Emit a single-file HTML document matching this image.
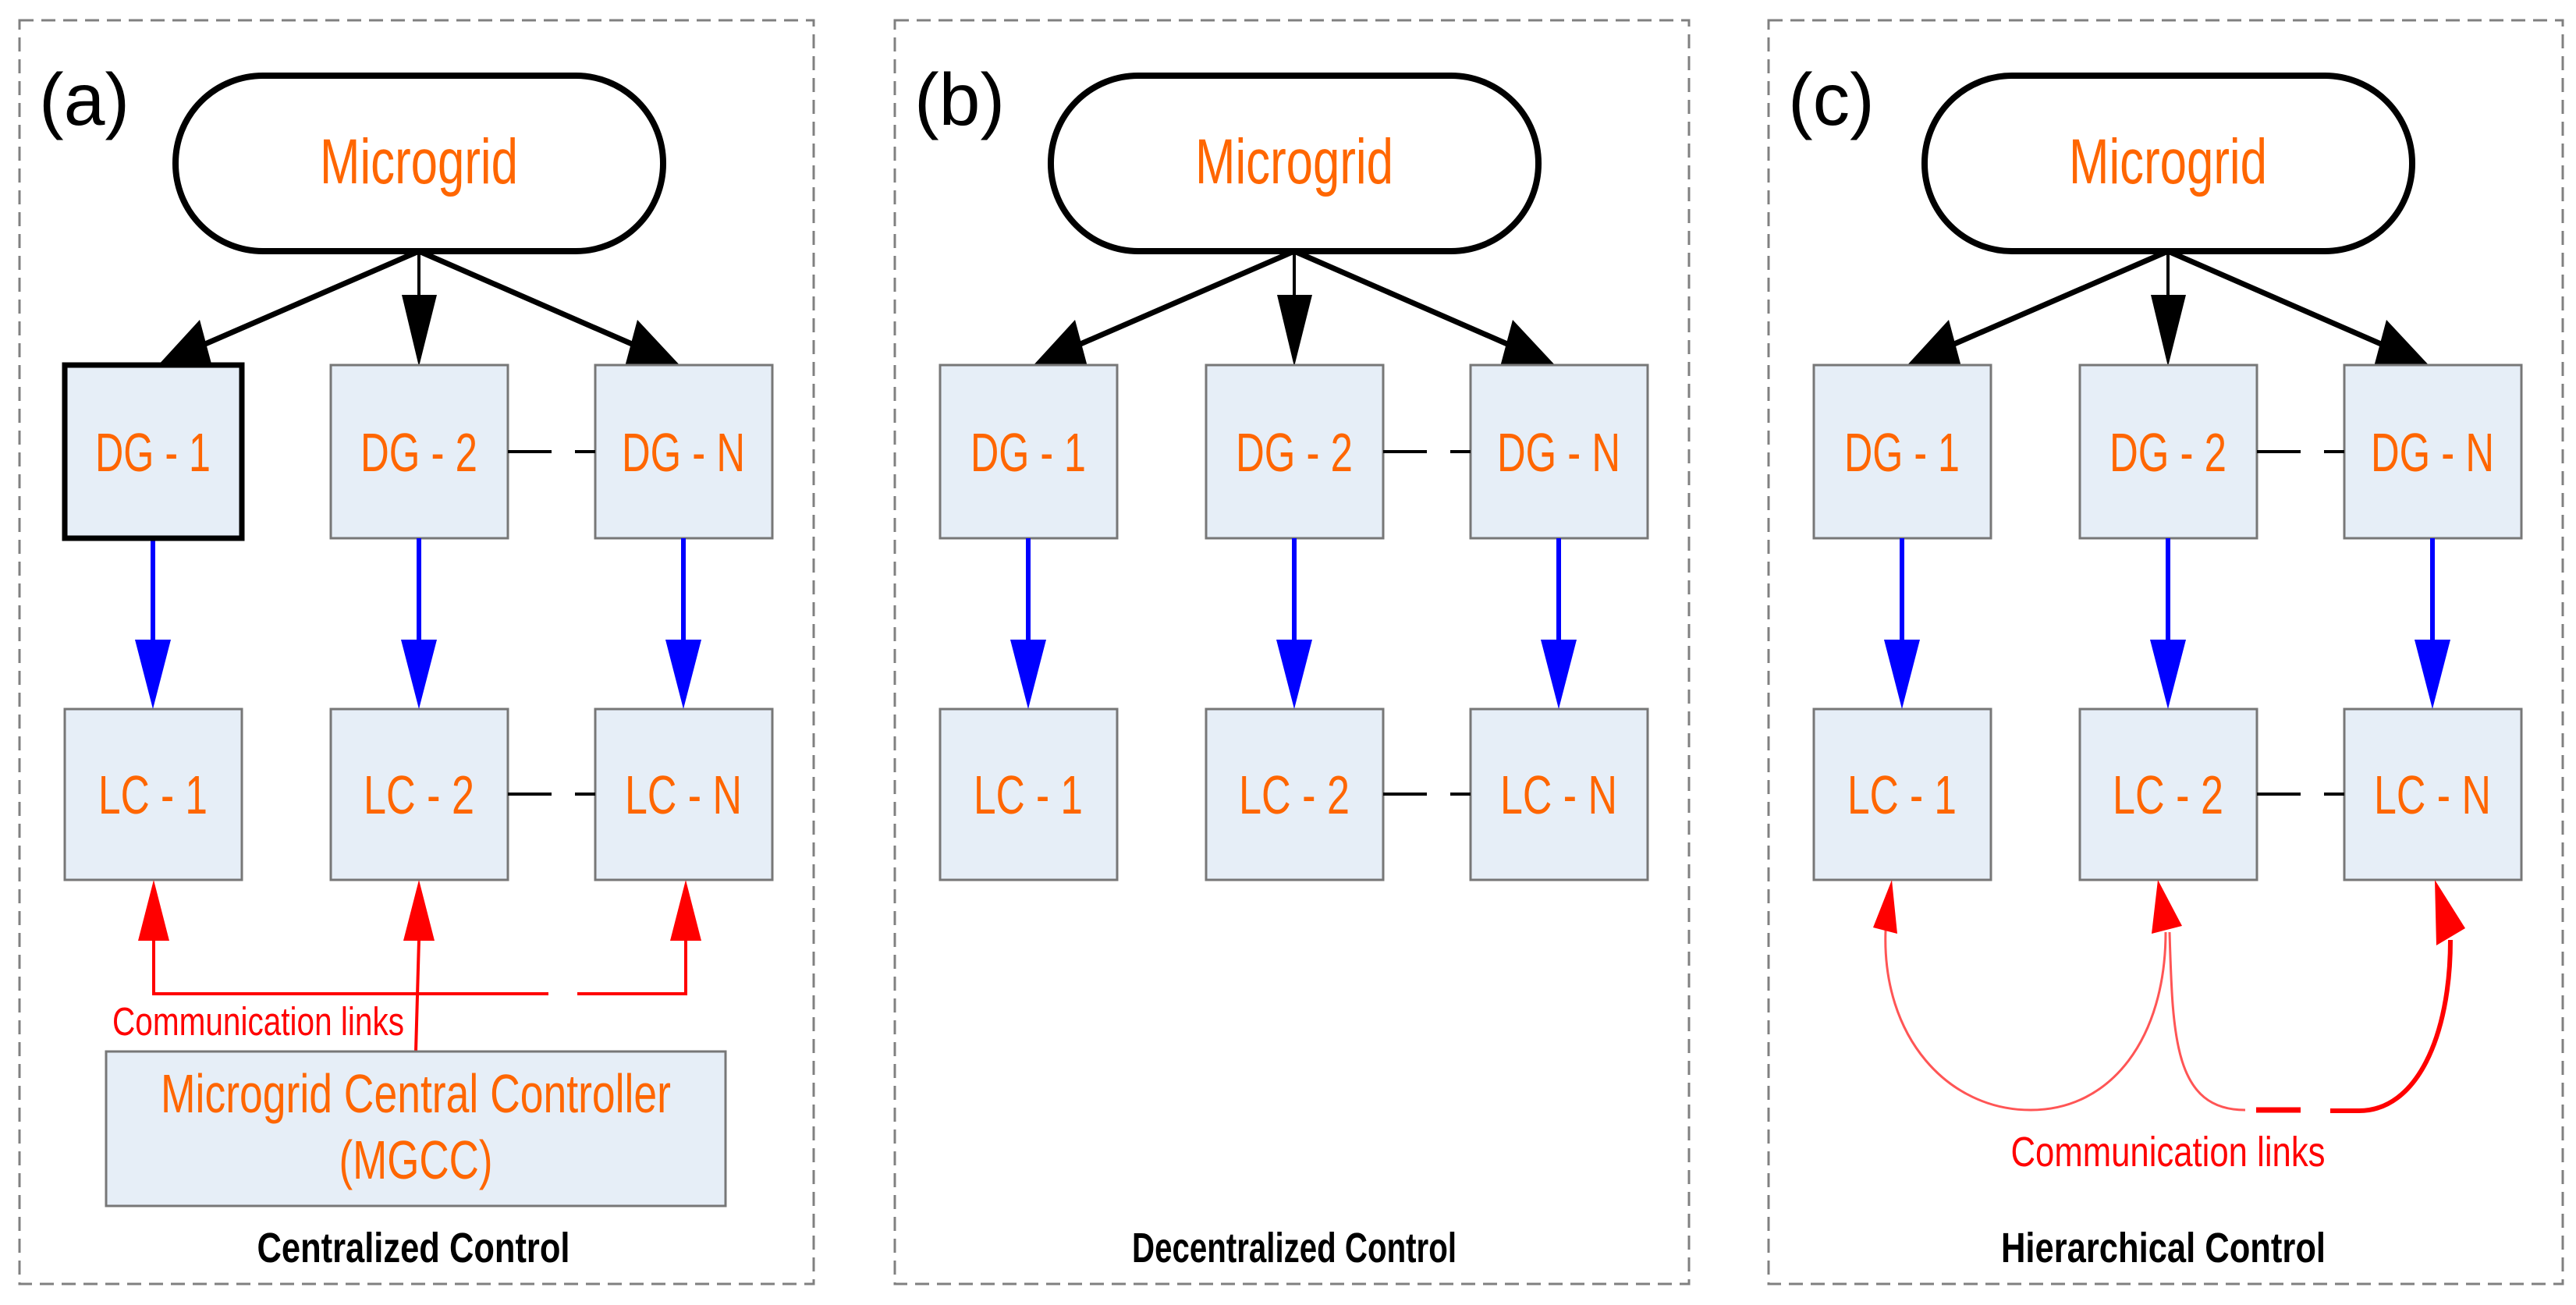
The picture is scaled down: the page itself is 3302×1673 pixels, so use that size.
<!DOCTYPE html>
<html><head><meta charset="utf-8"><style>html,body{margin:0;padding:0;background:#fff}svg{display:block}</style></head>
<body>
<svg width="3302" height="1673" viewBox="0 0 3302 1673" xmlns="http://www.w3.org/2000/svg" font-family="Liberation Sans, Arial, sans-serif">
<defs>
<g id="common">
  <rect x="0" y="26" width="1018" height="1620" fill="none" stroke="#808080" stroke-width="3" stroke-dasharray="18,10"/>
  <rect x="200" y="97" width="625" height="225" rx="112" ry="112" fill="#fff" stroke="#000" stroke-width="8"/>
  <text x="512" y="235" font-size="82" fill="#ff6600" text-anchor="middle" textLength="254" lengthAdjust="spacingAndGlyphs">Microgrid</text>
  <!-- black arrows -->
  <line x1="512" y1="322" x2="238" y2="441" stroke="#000" stroke-width="7"/>
  <polygon points="176,470 231,410 247,470" fill="#000"/>
  <line x1="512" y1="322" x2="785" y2="441" stroke="#000" stroke-width="7"/>
  <polygon points="848,470 792,410 776,470" fill="#000"/>
  <line x1="512" y1="322" x2="512" y2="380" stroke="#000" stroke-width="4"/>
  <polygon points="490,378 535,378 512,470" fill="#000"/>
  <!-- boxes -->
  <g fill="#e6eef7" stroke="#777" stroke-width="3">
    <rect x="58" y="468" width="227" height="222"/>
    <rect x="399" y="468" width="227" height="222"/>
    <rect x="738" y="468" width="227" height="222"/>
    <rect x="58" y="909" width="227" height="219"/>
    <rect x="399" y="909" width="227" height="219"/>
    <rect x="738" y="909" width="227" height="219"/>
  </g>
  <g stroke="#000" stroke-width="4">
    <line x1="626" y1="579" x2="682" y2="579"/><line x1="712" y1="579" x2="738" y2="579"/>
    <line x1="626" y1="1018" x2="682" y2="1018"/><line x1="712" y1="1018" x2="738" y2="1018"/>
  </g>
  <g font-size="70" fill="#ff6600" text-anchor="middle">
    <text x="171" y="604" textLength="148" lengthAdjust="spacingAndGlyphs">DG - 1</text>
    <text x="512" y="604" textLength="150" lengthAdjust="spacingAndGlyphs">DG - 2</text>
    <text x="851" y="604" textLength="158" lengthAdjust="spacingAndGlyphs">DG - N</text>
    <text x="171" y="1043" textLength="140" lengthAdjust="spacingAndGlyphs">LC - 1</text>
    <text x="512" y="1043" textLength="142" lengthAdjust="spacingAndGlyphs">LC - 2</text>
    <text x="851" y="1043" textLength="150" lengthAdjust="spacingAndGlyphs">LC - N</text>
  </g>
  <!-- blue arrows -->
  <g stroke="#0000ff" stroke-width="6">
    <line x1="171" y1="690" x2="171" y2="825"/><line x1="512" y1="690" x2="512" y2="825"/><line x1="851" y1="690" x2="851" y2="825"/>
  </g>
  <g fill="#0000ff">
    <polygon points="148,820 194,820 171,909"/><polygon points="489,820 535,820 512,909"/><polygon points="828,820 874,820 851,909"/>
  </g>
</g>
</defs>

<!-- Panel a -->
<g transform="translate(25,0)">
  <use href="#common"/>
  <rect x="58" y="468" width="227" height="222" fill="none" stroke="#000" stroke-width="7"/>
  <text x="25" y="160" font-size="95" fill="#000">(a)</text>
  <g stroke="#ff0000" stroke-width="4" fill="none">
    <polyline points="172,1205 172,1274 678,1274"/>
    <polyline points="715,1274 854,1274 854,1205"/>
    <line x1="508" y1="1348" x2="512" y2="1205"/>
  </g>
  <g fill="#ff0000">
    <polygon points="152,1206 192,1206 172,1128"/>
    <polygon points="492,1206 532,1206 512,1128"/>
    <polygon points="834,1206 874,1206 854,1128"/>
  </g>
  <text x="119" y="1327" font-size="51" fill="#ff0000" textLength="374" lengthAdjust="spacingAndGlyphs">Communication links</text>
  <rect x="111" y="1348" width="794" height="198" fill="#e6eef7" stroke="#777" stroke-width="3"/>
  <text x="508" y="1426" font-size="70" fill="#ff6600" text-anchor="middle" textLength="654" lengthAdjust="spacingAndGlyphs">Microgrid Central Controller</text>
  <text x="508" y="1511" font-size="70" fill="#ff6600" text-anchor="middle" textLength="197" lengthAdjust="spacingAndGlyphs">(MGCC)</text>
  <text x="505" y="1618" font-size="54" font-weight="bold" fill="#000" text-anchor="middle" textLength="401" lengthAdjust="spacingAndGlyphs">Centralized Control</text>
</g>

<!-- Panel b -->
<g transform="translate(1147,0)">
  <use href="#common"/>
  <text x="25" y="160" font-size="95" fill="#000">(b)</text>
  <text x="512" y="1618" font-size="54" font-weight="bold" fill="#000" text-anchor="middle" textLength="416" lengthAdjust="spacingAndGlyphs">Decentralized Control</text>
</g>

<!-- Panel c -->
<g transform="translate(2267,0)">
  <use href="#common"/>
  <text x="25" y="160" font-size="95" fill="#000">(c)</text>
  <g fill="none" stroke="#ff5555">
    <path d="M150,1193 C145,1330 230,1423 336,1423 C440,1423 509,1330 509,1195" stroke-width="3"/>
    <path d="M514,1195 C518,1330 520,1423 611,1423" stroke-width="3"/>
  </g>
  <g stroke="#ff0000" fill="none">
    <line x1="625" y1="1423" x2="682" y2="1423" stroke-width="7"/>
    <path d="M720,1424 L757,1424 C830,1424 874,1330 874,1205" stroke-width="6"/>
  </g>
  <g fill="#ff0000">
    <polygon points="134,1189 165,1197 158,1128"/>
    <polygon points="491,1197 530,1187 499,1128"/>
    <polygon points="856,1212 893,1190 854,1128"/>
  </g>
  <text x="512" y="1495" font-size="54" fill="#ff0000" text-anchor="middle" textLength="403" lengthAdjust="spacingAndGlyphs">Communication links</text>
  <text x="506" y="1618" font-size="54" font-weight="bold" fill="#000" text-anchor="middle" textLength="416" lengthAdjust="spacingAndGlyphs">Hierarchical Control</text>
</g>
</svg>
</body></html>
